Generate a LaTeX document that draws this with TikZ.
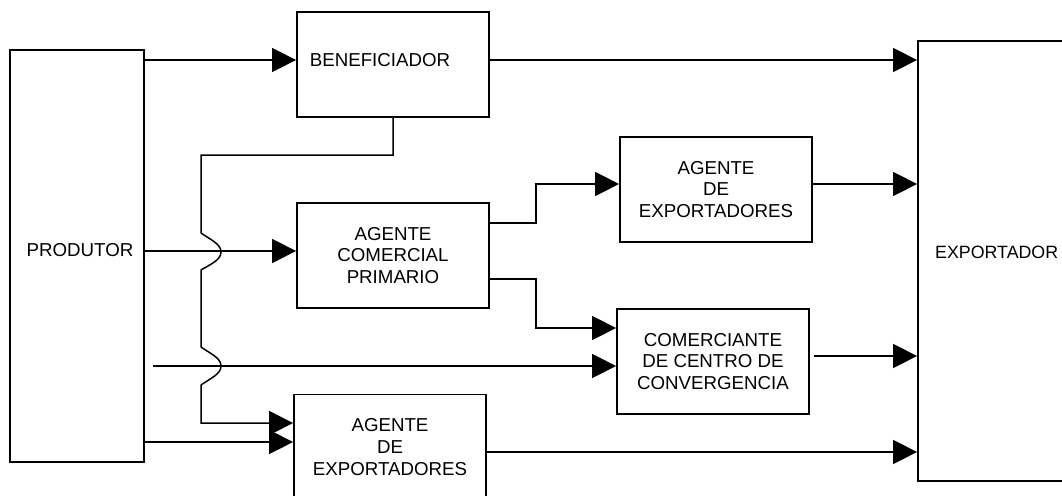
\documentclass[tikz,border=0pt]{standalone}
\usepackage{fontspec}
\setmainfont{Liberation Sans}
\usetikzlibrary{arrows.meta}
\newcommand\lab{\fontsize{18.7}{21.8}\selectfont}
\newcommand\labx{\fontsize{17.8}{21}\selectfont}
\tikzset{
  box/.style={draw, line width=1.8pt, rectangle, inner sep=0pt, align=center, font=\lab},
  txt/.style={inner sep=0pt, align=center, font=\lab},
  conn/.style={line width=1.5pt, -{Triangle[length=24pt,width=24pt]}},
  plain/.style={line width=1.5pt}
}
\begin{document}
\begin{tikzpicture}[x=1pt,y=-1pt]
\useasboundingbox (0,0) rectangle (1062,495);
\fill[white] (0,0) rectangle (1062,495);
% boxes
\node[box, minimum width=134pt, minimum height=412pt] (prod) at (77,256) {};
\node[txt] (prodt) at (80,250) {PRODUTOR};
\node[box, minimum width=192pt, minimum height=105pt] (ben) at (393,64.5) {};
\node[txt] (bent) at (380,60) {BENEFICIADOR};
\node[box, minimum width=192pt, minimum height=105pt] (acp) at (393,255.5) {AGENTE\\COMERCIAL\\PRIMARIO};
\node[box, minimum width=192pt, minimum height=105pt] (ae1) at (716,189.5) {AGENTE\\DE\\EXPORTADORES};
\node[box, minimum width=192pt, minimum height=105pt] (com) at (713,361.5) {COMERCIANTE\\DE CENTRO DE\\CONVERGENCIA};
\node[box, minimum width=192pt, minimum height=105pt] (ae2) at (390,447) {AGENTE\\DE\\EXPORTADORES};
\node[box, minimum width=157pt, minimum height=440pt] (exp) at (996.5,261) {};
\node[txt, font=\labx, anchor=west] (expt) at (935,252) {EXPORTADOR};
% connectors
\draw[conn] (prod.east |- 0,60) -- (ben.west |- 0,60);
\draw[conn] (ben.east |- 0,60) -- (exp.west |- 0,60);
\draw[conn] (prod.east |- 0,251) -- (acp.west |- 0,251);
\draw[conn] (acp.east |- 0,223) -- (536,223) -- (536,184) -- (ae1.west |- 0,184);
\draw[conn] (acp.east |- 0,279) -- (536,279) -- (536,328) -- (com.west |- 0,328);
\draw[conn] (ae1.east |- 0,184) -- (exp.west |- 0,184);
\coordinate (s) at (153,366);
\draw[conn] (s) -- (com.west |- 0,366);
\draw[conn] ([xshift=4pt]com.east |- 0,356) -- (exp.west |- 0,356);
\draw[conn] (prod.east |- 0,442) -- (ae2.west |- 0,442);
\draw[conn] (ae2.east |- 0,452) -- (exp.west |- 0,452);
\draw[conn] (ben.south) -- (393,155) -- (201,155) -- (201,233)
  .. controls (211,240) and (221,244) .. (221,252)
  .. controls (221,260) and (211,264) .. (201,270) -- (201,347)
  .. controls (211,354) and (221,358) .. (221,366)
  .. controls (221,374) and (211,378) .. (201,385) -- (201,423) -- (ae2.west |- 0,423);
\end{tikzpicture}
\end{document}
